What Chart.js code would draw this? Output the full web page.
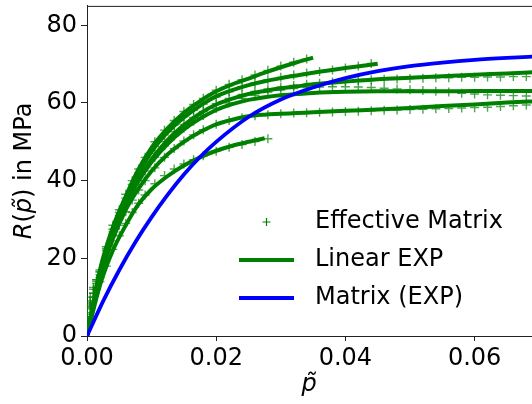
<!DOCTYPE html>
<html>
<head>
<meta charset="utf-8">
<script src="https://cdn.jsdelivr.net/npm/chart.js@4/dist/chart.umd.min.js"></script>
<style>
  body { margin: 0; background: #fff; overflow: hidden; }
</style>
</head>
<body>
<canvas id="myChart" width="538" height="404"></canvas>
<script>
// tick values
var xTicks = [0, 0.02, 0.04, 0.06];
var yTicks = [0, 20, 40, 60, 80];

// Linear EXP fits (green lines)
var fitP  = [0, 0.002, 0.004, 0.006, 0.008, 0.01, 0.0125, 0.015, 0.0175, 0.02, 0.0225, 0.025, 0.0275, 0.03, 0.0325, 0.035, 0.04, 0.045, 0.05, 0.055, 0.06, 0.065, 0.07];
var fitG1 = [0, 13, 22, 28.5, 34, 37.8, 41.2, 43.9, 46, 47.7, 49, 50, 50.9];
var fitG2 = [0, 17, 28, 36, 43, 48.5, 53.5, 57.5, 60.5, 63, 64.8, 66.3, 67.8, 69.2, 70.5, 71.7];
var fitG3 = [0, 16.5, 27.5, 35.5, 42, 47.5, 52.5, 56.3, 59.3, 61.7, 63.3, 64.6, 65.6, 66.4, 67.1, 67.8, 69, 70.1];
var fitG4 = [0, 16, 26.5, 34.5, 40.5, 45.5, 50.5, 54.3, 57.3, 59.6, 61.1, 62.3, 63.1, 63.8, 64.3, 64.8, 65.5, 66.1, 66.5, 66.9, 67.3, 67.6, 68.0];
var fitG5 = [0, 15.5, 26, 34, 40, 44.8, 49.5, 53.2, 56, 58.2, 59.7, 60.8, 61.5, 62, 62.3, 62.6, 62.9, 63, 63, 63, 63.1, 63.1, 63.1];
var fitG6 = [0, 15, 25, 32.5, 38, 42.5, 46.8, 50, 52.5, 54.5, 55.7, 56.6, 57, 57.2, 57.4, 57.6, 58, 58.3, 58.7, 59.2, 59.6, 60.1, 60.5];

// Effective Matrix points (green +)
var markP  = [0, 0.0005, 0.001, 0.0015, 0.002, 0.003, 0.004, 0.005, 0.006, 0.007, 0.008, 0.009, 0.0105, 0.012, 0.0135, 0.015, 0.0165, 0.018, 0.02, 0.022, 0.024, 0.026, 0.028, 0.03, 0.032, 0.034, 0.036, 0.038, 0.04, 0.042, 0.044, 0.046, 0.048, 0.05, 0.052, 0.054, 0.056, 0.058, 0.06, 0.062, 0.064, 0.066, 0.068, 0.07];
var markG1 = [5, 7.5, 10, 12, 14, 18, 22.3, 25.8, 29, 31.8, 34.2, 36.3, 39.2, 41.3, 43, 44.3, 45.4, 46.4, 47.6, 48.6, 49.3, 50.1, 50.8];
var markG2 = [5, 8, 11, 14, 16.5, 23, 28.5, 32.5, 36.5, 40, 43, 46, 50, 53, 55.5, 57.8, 59.6, 61.2, 63.3, 64.8, 66, 67.2, 68.4, 69.5, 70.5, 71.3];
var markG3 = [6, 9, 12, 14.5, 17, 22.5, 27.5, 31.8, 35.5, 39, 42, 44.8, 48.8, 51.8, 54.3, 56.5, 58.2, 59.7, 61.5, 62.9, 64.2, 65.2, 66, 66.6, 67.2, 67.7, 68.1, 68.5, 69, 69.5, 70.2];
var markG4 = [7, 10, 12.5, 14.5, 16.5, 22, 26.8, 31, 34.5, 37.8, 40.8, 43.3, 47, 50, 52.6, 54.5, 56.3, 57.8, 59.8, 61.2, 62.2, 63, 63.6, 64.1, 64.5, 64.8, 65.1, 65.4, 65.6, 65.8, 66, 66.1, 66.2, 66.3, 66.4, 66.5, 66.5, 66.6, 66.6, 66.7, 66.7, 66.8, 66.8, 66.9];
var markG5 = [5.5, 8.5, 11, 13.5, 15.8, 21, 26, 30.2, 33.8, 37, 40, 42.5, 46, 49, 51.5, 53.5, 55.3, 56.8, 58.6, 60, 61.2, 62, 62.8, 63.3, 63.7, 64, 64.1, 64.2, 64.2, 64.1, 64, 63.8, 63.6, 63.4, 63.2, 63, 62.8, 62.5, 62.3, 62.1, 62, 61.9, 61.8, 61.7];
var markG6 = [4.5, 7.5, 10, 12.5, 15, 20, 24.5, 28.5, 32, 35, 37.6, 40, 43.3, 46, 48.3, 50.2, 51.8, 53.1, 54.5, 55.5, 56.2, 56.7, 57, 57.2, 57.4, 57.5, 57.6, 57.7, 57.8, 57.9, 58, 58.1, 58.2, 58.3, 58.4, 58.5, 58.6, 58.7, 58.8, 58.9, 59.1, 59.3, 59.5, 59.6];

// Matrix (EXP), blue
var blueP = [0, 0.0025, 0.005, 0.0075, 0.01, 0.0125, 0.015, 0.0175, 0.02, 0.025, 0.03, 0.035, 0.04, 0.045, 0.05, 0.055, 0.06, 0.065, 0.07];
var blueY = [0, 9, 17, 24.2, 30.6, 36.4, 41.6, 46.1, 50, 56.4, 60.9, 64, 66.4, 68.2, 69.5, 70.4, 71.1, 71.6, 72];

var GREEN = '#008000';
var FONT = '"DejaVu Sans", sans-serif';

function pts(xs, ys) {
  return ys.map(function (y, i) { return { x: xs[i], y: y }; });
}

var datasets = [];
[markG1, markG2, markG3, markG4, markG5, markG6].forEach(function (m) {
  datasets.push({
    data: pts(markP, m),
    showLine: false,
    pointStyle: 'cross',
    pointRadius: 4.5,
    pointBorderWidth: 1.4,
    borderColor: 'rgba(0,128,0,0.7)',
    backgroundColor: 'rgba(0,128,0,0.7)',
    order: 3
  });
});
[fitG1, fitG2, fitG3, fitG4, fitG5, fitG6].forEach(function (f) {
  datasets.push({
    data: pts(fitP, f),
    showLine: true,
    pointRadius: 0,
    borderColor: GREEN,
    borderWidth: 4,
    cubicInterpolationMode: 'monotone',
    order: 2
  });
});
datasets.push({
  data: pts(blueP, blueY),
  showLine: true,
  pointRadius: 0,
  borderColor: '#0000ff',
  borderWidth: 3.8,
  cubicInterpolationMode: 'monotone',
  order: 1
});

// titles, top spine and the legend drawn on the canvas
var extras = {
  id: 'extras',
  afterDraw: function (chart) {
    var ctx = chart.ctx, a = chart.chartArea;
    ctx.save();
    ctx.strokeStyle = '#222';
    ctx.lineWidth = 1;
    ctx.beginPath();
    ctx.moveTo(a.left, a.top + 0.5);
    ctx.lineTo(a.right, a.top + 0.5);
    ctx.stroke();

    ctx.fillStyle = '#000';
    ctx.textBaseline = 'middle';
    ctx.textAlign = 'center';
    ctx.font = 'italic 24px ' + FONT;
    ctx.fillText('p\u0303', 309, 385);

    // y title: R(p~) in MPa
    var parts = [['R', true], ['(', false], ['p\u0303', true], [') in MPa', false]];
    var total = 0;
    parts.forEach(function (p) {
      ctx.font = (p[1] ? 'italic ' : '') + '24px ' + FONT;
      p.push(ctx.measureText(p[0]).width);
      total += p[2];
    });
    ctx.translate(24.5, (a.top + a.bottom) / 2);
    ctx.rotate(-Math.PI / 2);
    ctx.textAlign = 'left';
    var x = -total / 2;
    parts.forEach(function (p) {
      ctx.font = (p[1] ? 'italic ' : '') + '24px ' + FONT;
      ctx.fillText(p[0], x, 0);
      x += p[2];
    });
    ctx.restore();

    // legend
    ctx.save();
    ctx.font = '24px ' + FONT;
    ctx.fillStyle = '#000';
    ctx.textBaseline = 'middle';
    ctx.textAlign = 'left';
    ctx.strokeStyle = GREEN;
    ctx.lineWidth = 1.2;
    ctx.beginPath();
    ctx.moveTo(262.5, 222); ctx.lineTo(270.5, 222);
    ctx.moveTo(266.5, 218); ctx.lineTo(266.5, 226);
    ctx.stroke();
    ctx.fillText('Effective Matrix', 315, 222);
    ctx.lineWidth = 3.8;
    ctx.beginPath();
    ctx.moveTo(239, 260); ctx.lineTo(294, 260);
    ctx.stroke();
    ctx.fillText('Linear EXP', 315, 260);
    ctx.strokeStyle = '#0000ff';
    ctx.beginPath();
    ctx.moveTo(239, 298); ctx.lineTo(294, 298);
    ctx.stroke();
    ctx.fillText('Matrix (EXP)', 315, 298);
    ctx.restore();
  }
};

var ctx = document.getElementById('myChart').getContext('2d');
var chart = new Chart(ctx, {
  type: 'scatter',
  data: { datasets: datasets },
  options: {
    responsive: false,
    animation: false,
    layout: { padding: { top: 3, right: 0, left: 0, bottom: 0 } },
    plugins: { legend: { display: false }, tooltip: { enabled: false } },
    scales: {
      x: {
        type: 'linear',
        min: 0,
        max: 0.0689,
        afterFit: function (s) {
          s.height = 68;
          s.paddingLeft = 0; s.paddingRight = 0;
        },
        afterBuildTicks: function (s) { s.ticks = xTicks.map(function (v) { return { value: v }; }); },
        ticks: {
          color: '#000',
          font: { family: FONT, size: 24 },
          padding: 3,
          maxRotation: 0,
          callback: function (v) { return Number(v).toFixed(2); }
        },
        grid: { display: true, drawOnChartArea: false, drawTicks: true, tickLength: 5, color: '#222' },
        border: { display: true, color: '#222', width: 1 }
      },
      y: {
        min: 0,
        max: 85,
        afterFit: function (s) {
          s.width = 87;
          s.paddingTop = 0; s.paddingBottom = 0;
        },
        afterBuildTicks: function (s) { s.ticks = yTicks.map(function (v) { return { value: v }; }); },
        ticks: {
          color: '#000',
          font: { family: FONT, size: 24 },
          padding: 4
        },
        grid: { display: true, drawOnChartArea: false, drawTicks: true, tickLength: 6, color: '#222' },
        border: { display: true, color: '#222', width: 1 }
      }
    }
  },
  plugins: [extras]
});
</script>
</body>
</html>
